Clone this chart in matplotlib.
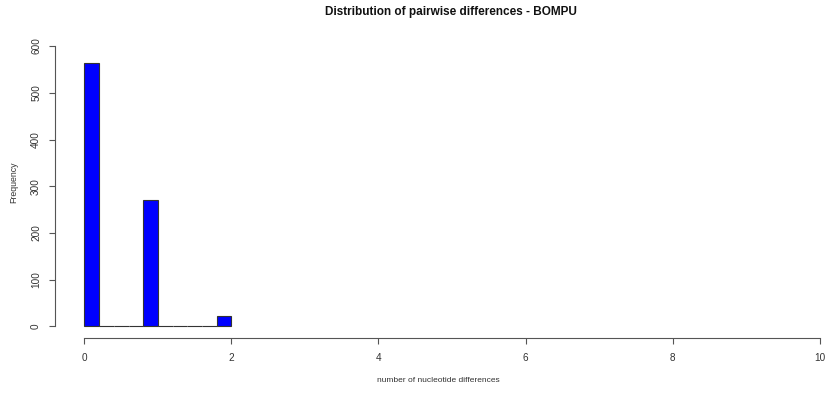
import numpy as np
import matplotlib
matplotlib.use("Agg")
import matplotlib.pyplot as plt

plt.rcParams['font.family'] = ['Liberation Sans', 'DejaVu Sans']

# Data (R hist, breaks of width 0.2 from 0 to 2)
bin_lefts = [0.0, 0.2, 0.4, 0.6, 0.8, 1.0, 1.2, 1.4, 1.6, 1.8]
counts = [564, 0, 0, 0, 270, 0, 0, 0, 0, 22]
bin_width = 0.2
x_ticks = [0, 2, 4, 6, 8, 10]
y_ticks = [0, 100, 200, 300, 400, 500, 600]
title = "Distribution of pairwise differences - BOMPU"
xlabel = "number of nucleotide differences"
ylabel = "Frequency"

W, H = 831, 396
fig = plt.figure(figsize=(W / 100, H / 100), dpi=100)
left, right, bottom, top = 55, 849, 396 - 337.7, 396 - 34.8
ax = fig.add_axes([left / W, bottom / H, (right - left) / W, (top - bottom) / H])

ax.bar(bin_lefts, counts, width=bin_width, align='edge', color='#0000FF',
       edgecolor='#333333', linewidth=0.8, clip_on=False)

ax.set_xlim(-0.4, 10.4)
ax.set_ylim(-24, 624)

for s in ['top', 'right']:
    ax.spines[s].set_visible(False)
ax.spines['left'].set_bounds(0, 600)
ax.spines['bottom'].set_bounds(0, 10)
for s in ['left', 'bottom']:
    ax.spines[s].set_color('#555555')
    ax.spines[s].set_linewidth(0.8)

ax.set_xticks(x_ticks)
ax.set_yticks(y_ticks)
ax.tick_params(axis='both', direction='out', length=4, width=0.8, color='#555555',
               labelsize=7.2, labelcolor='#333333')
ax.tick_params(axis='x', pad=7)
ax.tick_params(axis='y', pad=6)
for lbl in ax.get_yticklabels():
    lbl.set_rotation(90)
    lbl.set_va('center')

fig.text(451 / W, 1 - 12 / H, title, ha='center', va='center', fontsize=8.5,
         fontweight='bold', color='#111111')
fig.text(438 / W, 1 - 381 / H, xlabel, ha='center', va='center', fontsize=6.0,
         color='#333333')
fig.text(14 / W, 1 - 182 / H, ylabel, ha='center', va='center', fontsize=6.3,
         rotation=90, color='#333333')

fig.savefig('out.png', dpi=100)
